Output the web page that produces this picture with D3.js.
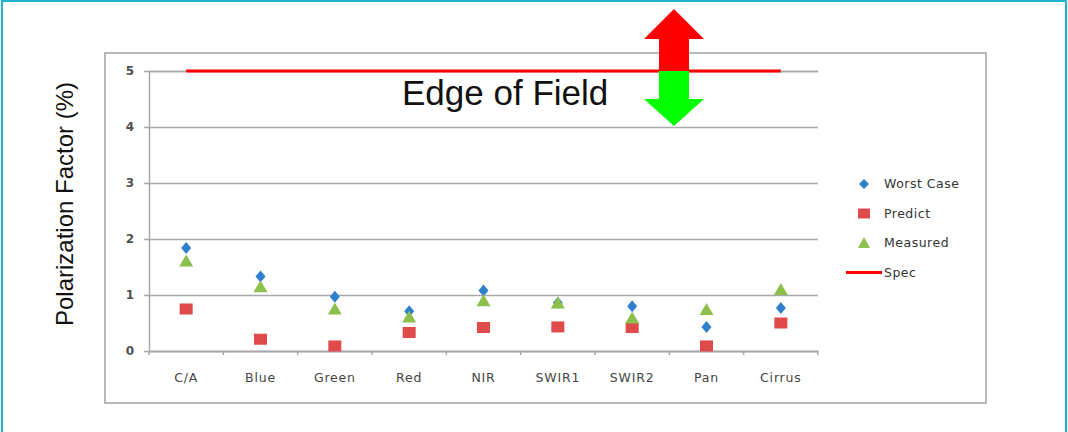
<!DOCTYPE html>
<html>
<head>
<meta charset="utf-8">
<script src="https://cdn.jsdelivr.net/npm/d3@7"></script>
<style>
  body { margin: 0; background: #fff; }
  svg { display: block; }
</style>
</head>
<body>
<svg id="drawing_region"></svg>
<script>
// band names along the x axis
var categories = ['C/A', 'Blue', 'Green', 'Red', 'NIR', 'SWIR1', 'SWIR2', 'Pan', 'Cirrus'];
// polarization factor (%) per band
var worstCase = [1.84, 1.33, 0.97, 0.71, 1.08, 0.86, 0.80, 0.43, 0.77];
var predict   = [0.75, 0.21, 0.09, 0.33, 0.42, 0.43, 0.42, 0.09, 0.50];
var measured  = [1.60, 1.14, 0.74, 0.60, 0.89, 0.85, 0.58, 0.73, 1.09];
var specValue = [5];
var yTicks = [0, 1, 2, 3, 4, 5];
var seriesNames = ['Worst Case', 'Predict', 'Measured', 'Spec'];

const width = 1068, height = 432;
const plot = {left: 149, right: 818, top: 71, bottom: 351};

const svg = d3.select('#drawing_region')
    .attr('width', width)
    .attr('height', height);

// outer teal frame (top, left, right)
svg.append('path')
    .attr('d', `M2,432 L2,1 L1066,1 L1066,432`)
    .attr('fill', 'none')
    .attr('stroke', '#1eb4cc')
    .attr('stroke-width', 2);

// chart area frame
svg.append('rect')
    .attr('x', 105).attr('y', 53)
    .attr('width', 881).attr('height', 350)
    .attr('fill', '#fff')
    .attr('stroke', '#b8b8b8')
    .attr('stroke-width', 2);

const xscale = d3.scaleBand()
    .domain(categories)
    .range([plot.left, plot.right])
    .padding(0);

const yscale = d3.scaleLinear()
    .domain([0, 5])
    .range([plot.bottom, plot.top]);

const cx = d => xscale(d) + xscale.bandwidth() / 2;

// horizontal gridlines + y axis
const yaxis = d3.axisLeft(yscale)
    .tickValues(yTicks)
    .tickSize(-(plot.right - plot.left))
    .tickPadding(15)
    .tickFormat(d3.format('d'));

const ygroup = svg.append('g')
    .attr('transform', `translate(${plot.left},0)`)
    .call(yaxis);
ygroup.select('.domain').attr('stroke', '#a8a8a8').attr('stroke-width', 1.5);
ygroup.selectAll('.tick line')
    .attr('x1', -5)
    .attr('stroke', '#a8a8a8')
    .attr('stroke-width', 1.5);
ygroup.selectAll('.tick text')
    .attr('font-family', 'DejaVu Sans, sans-serif')
    .attr('font-size', 12)
    .attr('font-weight', 'bold')
    .attr('fill', '#505050');

// x axis with ticks between categories
const xaxis = d3.axisBottom(xscale)
    .tickSize(0)
    .tickPadding(22);
const xgroup = svg.append('g')
    .attr('transform', `translate(0,${plot.bottom})`)
    .call(xaxis);
xgroup.select('.domain').attr('stroke', '#a8a8a8').attr('stroke-width', 1.5);
xgroup.selectAll('.tick text')
    .attr('font-family', 'DejaVu Sans, sans-serif')
    .attr('font-size', 12.5)
    .attr('letter-spacing', 0.8)
    .attr('fill', '#444');
xgroup.selectAll('.sep')
    .data(categories.concat(['_end']))
    .enter().append('line')
    .attr('class', 'sep')
    .attr('x1', (d, i) => plot.left + i * xscale.bandwidth())
    .attr('x2', (d, i) => plot.left + i * xscale.bandwidth())
    .attr('y1', 0).attr('y2', 4)
    .attr('stroke', '#a8a8a8')
    .attr('stroke-width', 1.5);

// spec line at 5 %
const specLine = d3.line()
    .x(d => cx(d))
    .y(() => yscale(specValue[0]));
svg.append('path')
    .attr('d', specLine(categories))
    .attr('fill', 'none')
    .attr('stroke', '#ff0000')
    .attr('stroke-width', 3);

// markers
const blue = '#2f7fcc', red = '#e04a4a', green = '#8dbf4c';
const diamond = 'M0,-6 L5,0 L0,6 L-5,0 Z';
const triangle = 'M0,-7 L7,5 L-7,5 Z';

svg.append('g').selectAll('path')
    .data(categories)
    .enter().append('path')
    .attr('d', diamond)
    .attr('transform', (d, i) => `translate(${cx(d)},${yscale(worstCase[i])})`)
    .attr('fill', blue);

svg.append('g').selectAll('rect')
    .data(categories)
    .enter().append('rect')
    .attr('x', d => cx(d) - 6.5)
    .attr('y', (d, i) => yscale(predict[i]) - 5.5)
    .attr('width', 13).attr('height', 11)
    .attr('fill', red);

svg.append('g').selectAll('path')
    .data(categories)
    .enter().append('path')
    .attr('d', triangle)
    .attr('transform', (d, i) => `translate(${cx(d)},${yscale(measured[i])})`)
    .attr('fill', green);

// legend
const legend = svg.append('g').attr('transform', 'translate(864,184)');
const lg = legend.selectAll('g')
    .data(seriesNames)
    .enter().append('g')
    .attr('transform', (d, i) => `translate(0,${i * 29.5})`);
lg.append('path')
    .attr('d', (d, i) => i === 0 ? 'M0,-5 L5,0 L0,5 L-5,0 Z'
        : i === 1 ? 'M-6,-5 L6,-5 L6,5 L-6,5 Z'
        : i === 2 ? 'M0,-6 L6,5 L-6,5 Z'
        : 'M-18,0 L18,0')
    .attr('fill', (d, i) => [blue, red, green, 'none'][i])
    .attr('stroke', (d, i) => i === 3 ? '#ff0000' : 'none')
    .attr('stroke-width', 3);
lg.append('text')
    .attr('x', 20)
    .attr('y', 0)
    .attr('dy', '0.35em')
    .attr('font-family', 'DejaVu Sans, sans-serif')
    .attr('font-size', 12.5)
    .attr('letter-spacing', 0.5)
    .attr('fill', '#333')
    .text(d => d);

// y axis title
svg.append('text')
    .attr('transform', `translate(73,204) rotate(-90)`)
    .attr('text-anchor', 'middle')
    .attr('font-family', 'Liberation Sans, Arial, sans-serif')
    .attr('font-size', 24)
    .attr('fill', '#111')
    .text('Polarization Factor (%)');

// edge of field annotation
svg.append('text')
    .attr('x', 402)
    .attr('y', 105)
    .attr('font-family', 'Liberation Sans, Arial, sans-serif')
    .attr('font-size', 35)
    .attr('fill', '#111')
    .text('Edge of Field');

// double arrow at the spec line
const ax = 674, ay = yscale(specValue[0]);
svg.append('path')
    .attr('d', `M${ax},9 L${ax + 30},39 L${ax + 15},39 L${ax + 15},${ay} L${ax - 15},${ay} L${ax - 15},39 L${ax - 30},39 Z`)
    .attr('fill', '#ff0000');
svg.append('path')
    .attr('d', `M${ax - 15},${ay} L${ax + 15},${ay} L${ax + 15},99 L${ax + 30},99 L${ax},126 L${ax - 30},99 L${ax - 15},99 Z`)
    .attr('fill', '#00ff00');
</script>
</body>
</html>
